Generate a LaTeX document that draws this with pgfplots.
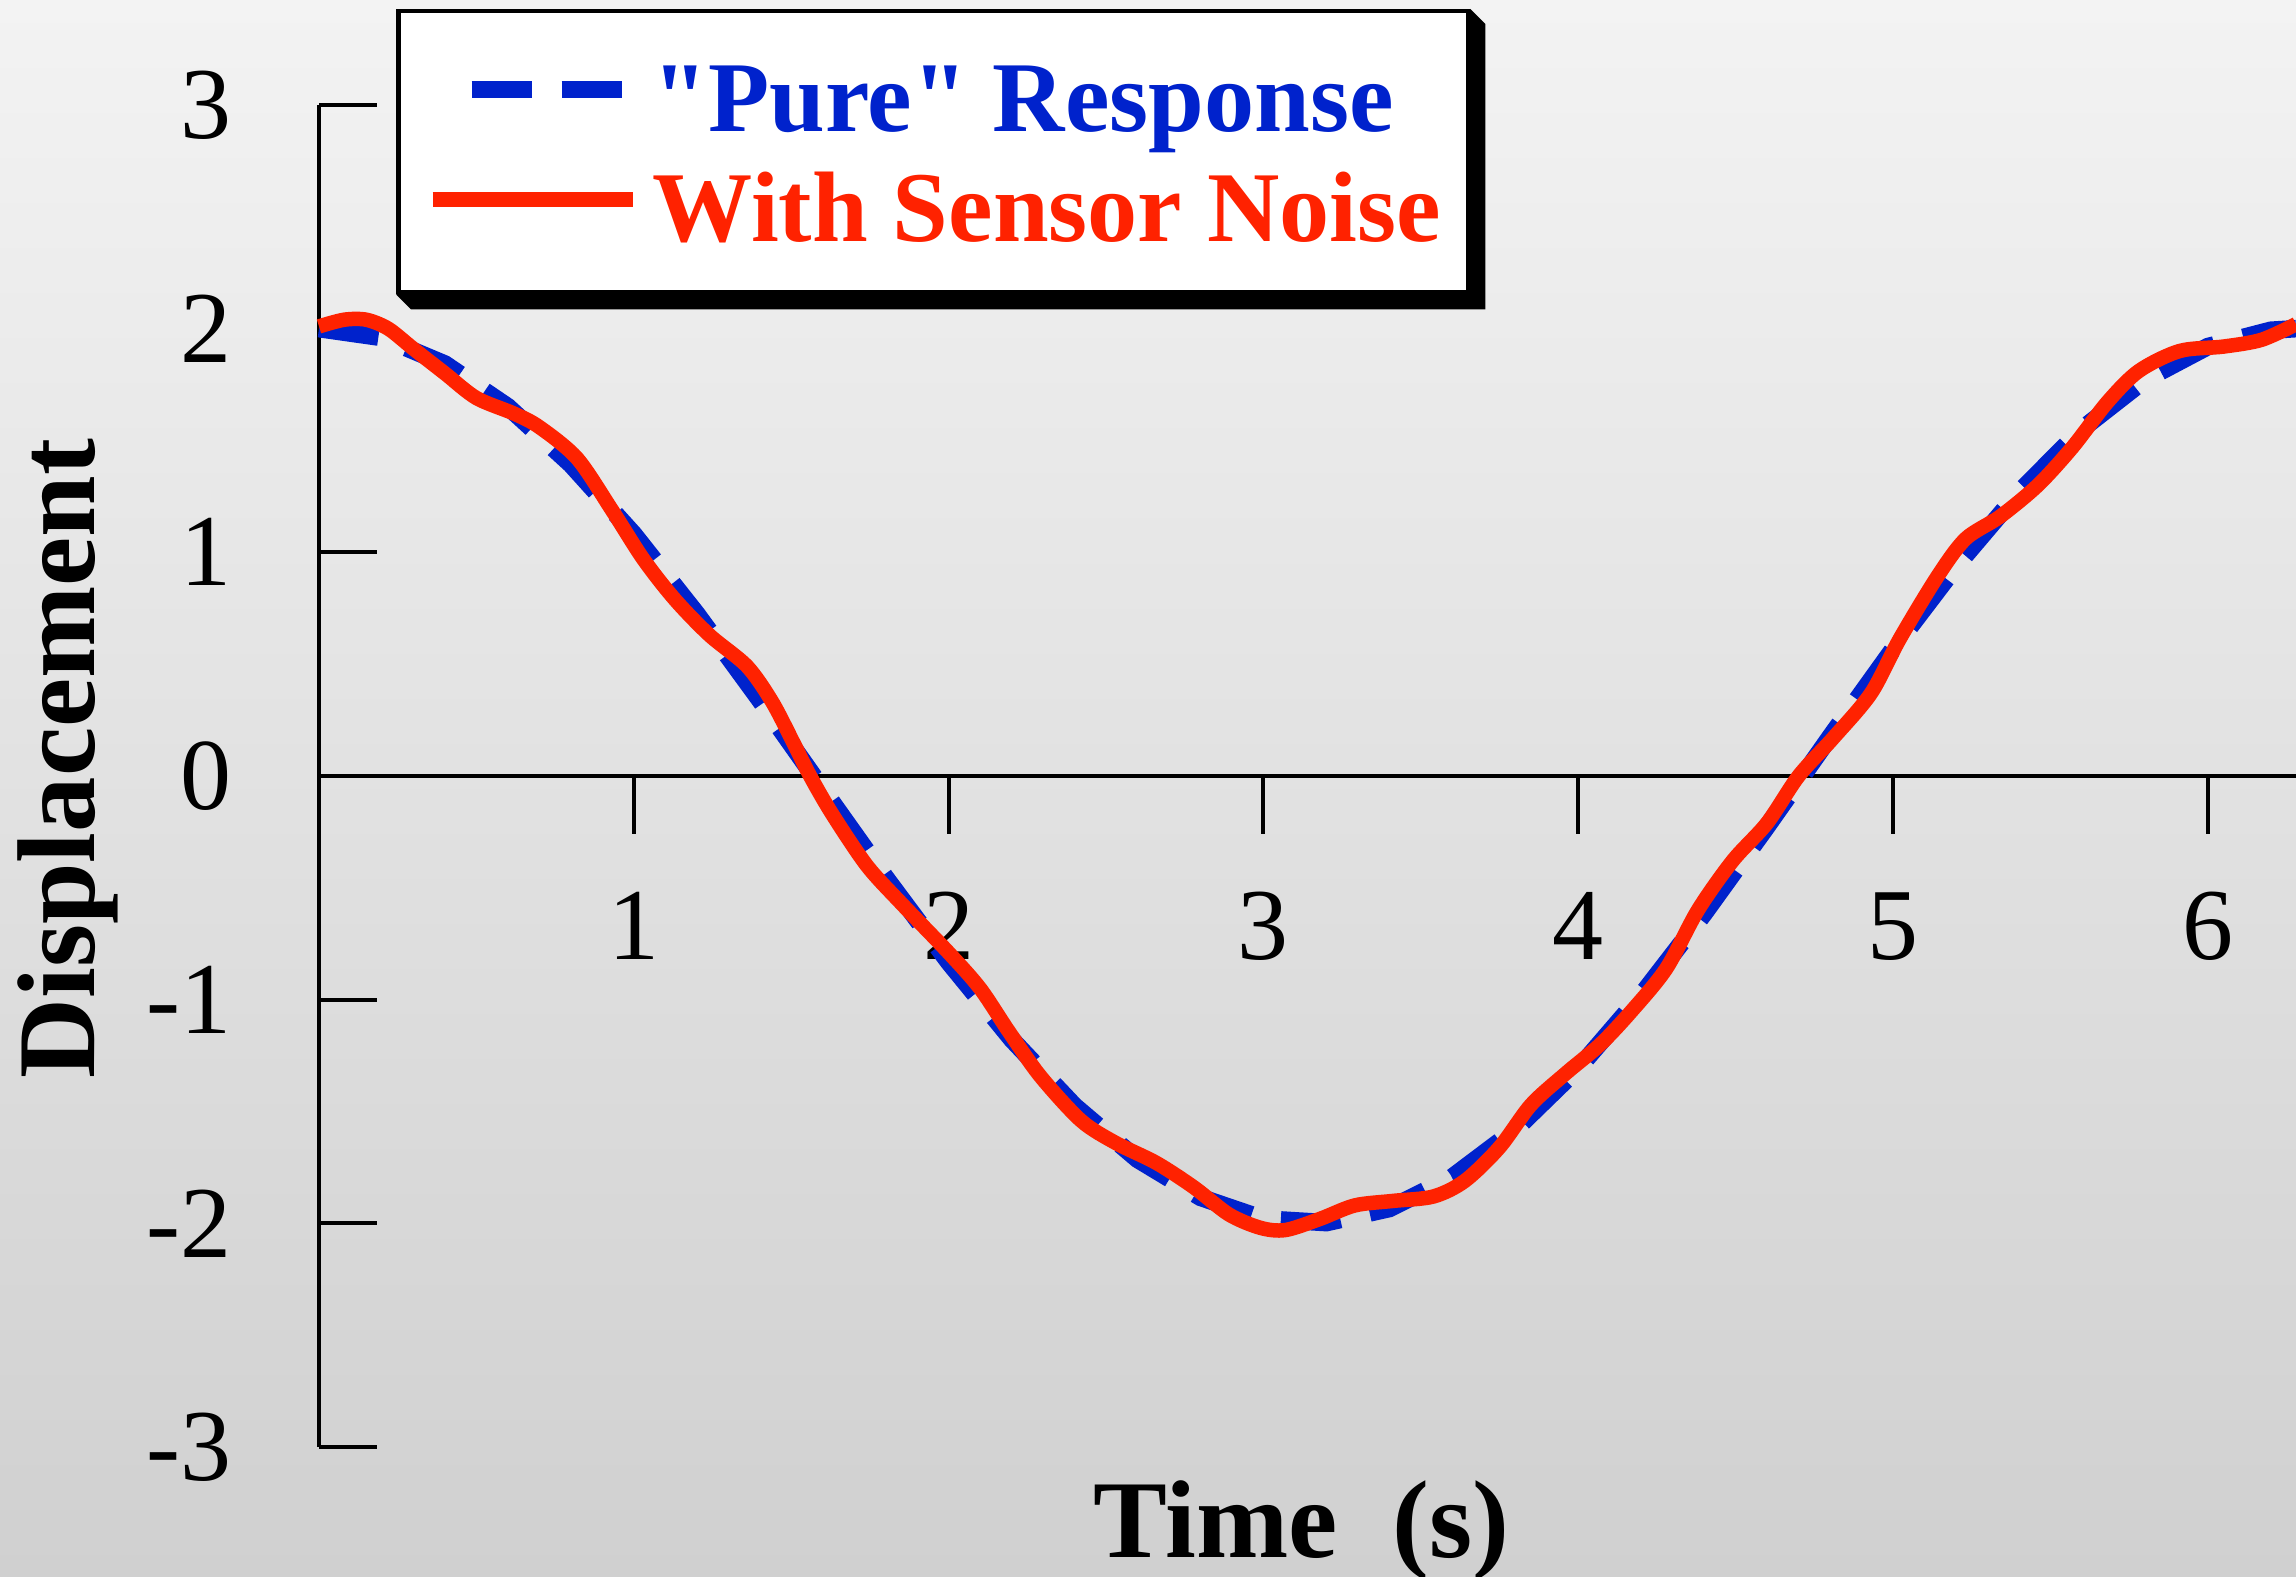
\documentclass[border=0pt]{standalone}
\usepackage{fontspec}
\setmainfont{Liberation Serif}
\newfontfamily\qfont{Liberation Serif}
\usepackage{pgfplots}
\pgfplotsset{compat=1.18}
\definecolor{bgtop}{RGB}{243,243,243}
\definecolor{bgbot}{RGB}{208,208,208}
\definecolor{pureblue}{RGB}{0,34,204}
\definecolor{noisered}{RGB}{255,34,0}
\newcommand{\tickfont}{\fontsize{29}{33}\selectfont}
\newcommand{\legfont}{\fontsize{28.5}{33}\selectfont\bfseries}
\newcommand{\labfont}{\fontsize{31.5}{36}\selectfont\bfseries}
\newcommand{\dq}{{\qfont\bfseries "}}
\pgfdeclarelayer{bglayer}
\pgfdeclarelayer{shadowlayer}
\pgfsetlayers{bglayer,shadowlayer,main}
\pgfplotsset{
  bluelegend/.style={legend image code/.code={\draw[##1] (3.9mm,0.7mm) -- (19.5mm,0.7mm);}},
  redlegend/.style={legend image code/.code={\draw[##1] (0mm,0.7mm) -- (20mm,0.7mm);}},
}
\begin{document}
\begin{tikzpicture}
\begin{pgfonlayer}{bglayer}
\shade[top color=bgtop, bottom color=bgbot] (0,0) rectangle (229.6mm,157.7mm);
\end{pgfonlayer}
\begin{axis}[
  at={(31.9mm,13mm)}, anchor=south west,
  scale only axis, width=197.7mm, height=134.2mm,
  xmin=0, xmax=6.28, ymin=-3, ymax=3,
  axis x line=middle, axis y line=left,
  x axis line style={-, line width=0.4mm},
  y axis line style={-, line width=0.4mm},
  xtick={1,2,3,4,5,6}, xticklabels={1,2,3,4,5,6},
  ytick={-3,-2,-1,0,1,2,3}, yticklabels={-3,-2,-1,0,1,2,3},
  major tick length=5.8mm,
  every tick/.style={black, line width=0.4mm},
  xtick align=outside, ytick align=inside,
  ticklabel style={font=\tickfont, inner sep=0pt},
  xticklabel style={anchor=base, yshift=-12.6mm},
  yticklabel style={anchor=east, xshift=-8.7mm},
  xlabel={Time~~(s)}, ylabel={Displacement},
  xlabel style={at={(axis description cs:0.497,-0.0827)}, anchor=base, font=\labfont, inner sep=0pt},
  ylabel style={at={(axis description cs:-0.127,0.513)}, anchor=center, font=\labfont, inner sep=0pt},
  clip=false,
  legend style={
    name=leg,
    at={(axis description cs:0,1)}, anchor=north west, xshift=7.7mm, yshift=9.6mm,
    draw=black, line width=0.45mm, fill=white,
    inner xsep=2.7mm, inner ysep=4.05mm,
    row sep=2mm,
    nodes={inner sep=0pt, text height=8mm, text depth=1mm},
    font=\legfont,
    /tikz/every odd column/.append style={column sep=1.3mm},
  },
  legend cell align=left,
]
\addplot[pureblue, line width=1.75mm, dash pattern=on 6mm off 3mm, bluelegend]
coordinates {
(0,2.000) (0.2,1.960) (0.4,1.842) (0.6,1.651) (0.8,1.393) (1.0,1.081)
(1.2,0.725) (1.4,0.340) (1.6,-0.058) (1.8,-0.454) (2.0,-0.832) (2.2,-1.177)
(2.4,-1.475) (2.6,-1.714) (2.8,-1.884) (3.0,-1.980) (3.2,-1.997) (3.4,-1.934)
(3.6,-1.793) (3.8,-1.581) (4.0,-1.307) (4.2,-0.980) (4.4,-0.615) (4.6,-0.225)
(4.8,0.175) (5.0,0.567) (5.2,0.937) (5.4,1.269) (5.6,1.551) (5.8,1.771)
(6.0,1.920) (6.2,1.993) (6.28,2.000)
};
\addlegendentry{\textcolor{pureblue}{\dq Pure\dq{} Response}}
\addplot[noisered, line width=1.45mm, smooth, redlegend]
coordinates {
(0,2.01) (0.08,2.04) (0.15,2.04) (0.22,2.00) (0.30,1.91) (0.40,1.80)
(0.50,1.69) (0.62,1.62) (0.70,1.56) (0.82,1.42) (0.93,1.19) (1.03,0.97)
(1.13,0.79) (1.24,0.63) (1.36,0.49) (1.44,0.33) (1.51,0.14) (1.56,0.00)
(1.63,-0.17) (1.74,-0.40) (1.85,-0.57) (2.00,-0.79) (2.10,-0.95) (2.19,-1.14)
(2.29,-1.34) (2.42,-1.54) (2.53,-1.64) (2.66,-1.73) (2.78,-1.84) (2.89,-1.96)
(2.99,-2.02) (3.07,-2.03) (3.18,-1.98) (3.29,-1.92) (3.41,-1.90) (3.54,-1.88)
(3.64,-1.81) (3.75,-1.66) (3.85,-1.47) (3.96,-1.33) (4.07,-1.20) (4.17,-1.05)
(4.28,-0.86) (4.38,-0.60) (4.49,-0.38) (4.60,-0.21) (4.70,0.00) (4.81,0.17)
(4.93,0.37) (5.02,0.61) (5.14,0.89) (5.23,1.06) (5.34,1.16) (5.46,1.30)
(5.57,1.47) (5.68,1.67) (5.78,1.81) (5.91,1.90) (6.05,1.92) (6.17,1.95)
(6.28,2.02)
};
\addlegendentry{\textcolor{noisered}{With Sensor Noise}}
\end{axis}
\begin{pgfonlayer}{shadowlayer}
\fill[black] (leg.south west) -- ([shift={(1.5mm,-1.5mm)}]leg.south west)
  -- ([shift={(1.5mm,-1.5mm)}]leg.south east) -- ([shift={(1.5mm,-1.5mm)}]leg.north east)
  -- (leg.north east) -- cycle;
\end{pgfonlayer}
\pgfresetboundingbox
\useasboundingbox (0,0) rectangle (229.6mm,157.7mm);
\end{tikzpicture}
\end{document}
